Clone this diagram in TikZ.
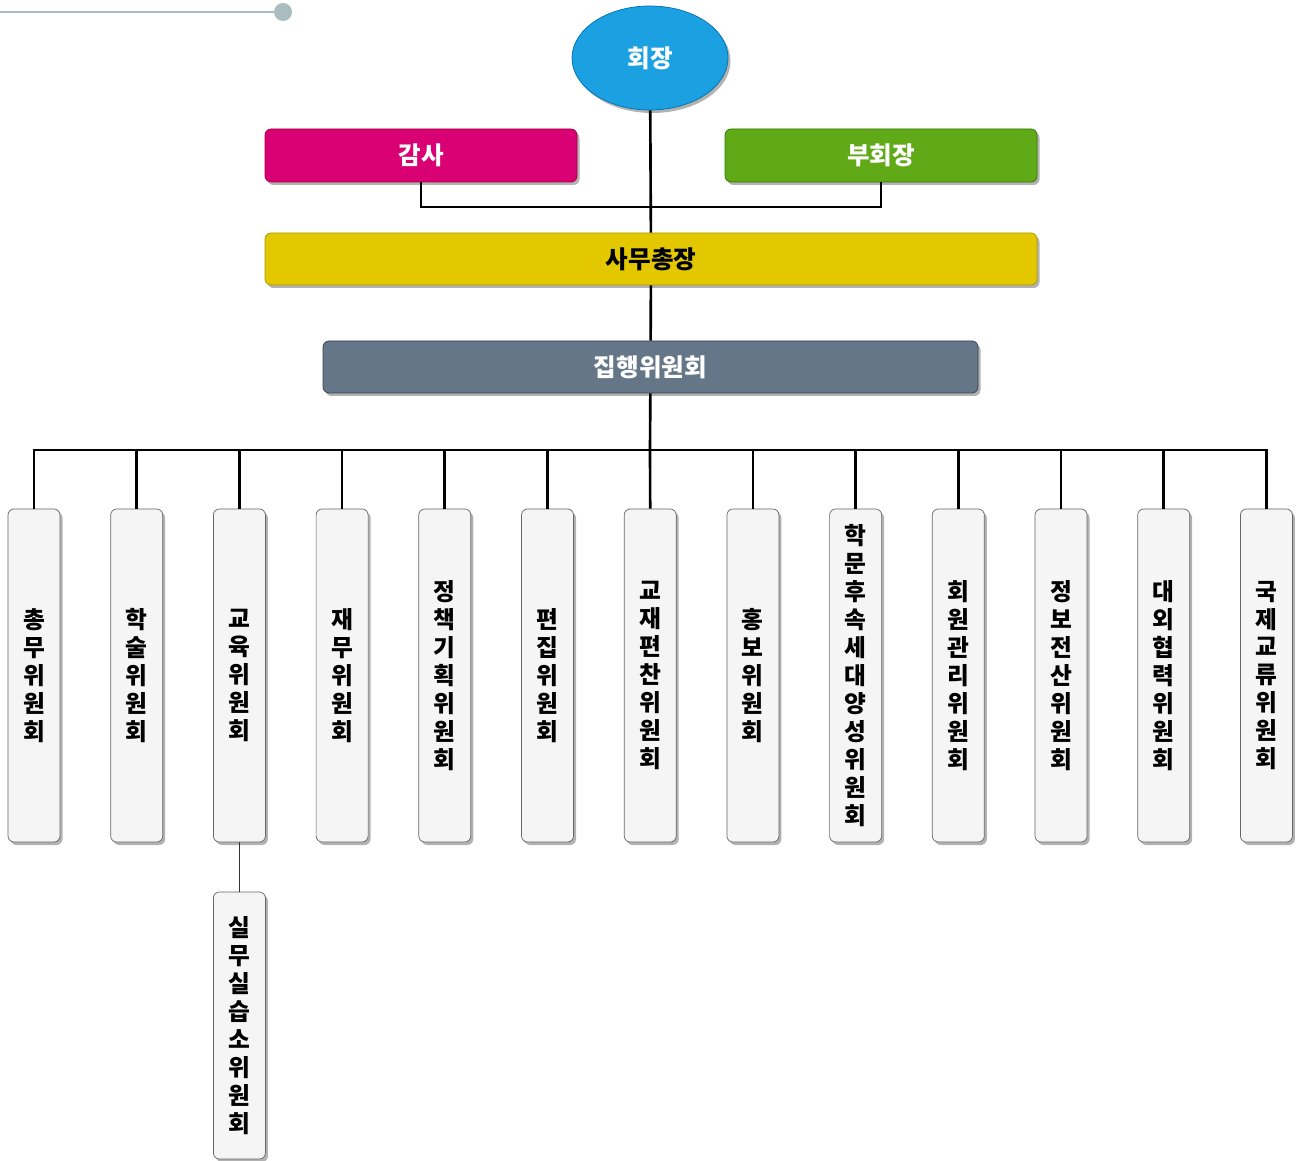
\documentclass[tikz,border=0pt]{standalone}
\usepackage{fontspec}
\newfontfamily\krfont{Noto Sans CJK KR}
\usepackage{tikz}
\usetikzlibrary{shapes.geometric,shadows}

\definecolor{cblue}{HTML}{1BA1E2}
\definecolor{cbluel}{HTML}{006EAF}
\definecolor{cpink}{HTML}{D80073}
\definecolor{cpinkl}{HTML}{A50040}
\definecolor{cgreen}{HTML}{60A917}
\definecolor{cgreenl}{HTML}{2D7600}
\definecolor{cyel}{HTML}{E3C800}
\definecolor{cyell}{HTML}{B09500}
\definecolor{cslate}{HTML}{647687}
\definecolor{cslatel}{HTML}{314354}
\definecolor{cpaper}{HTML}{F5F5F5}
\definecolor{cedge}{HTML}{666666}
\definecolor{cline}{HTML}{A9BDBE}

\begin{document}
\begin{tikzpicture}[
  shade/.style={drop shadow={shadow xshift=0.05cm,shadow yshift=-0.06cm,fill=black,opacity=0.3}},
  head/.style={draw,rounded corners=0.12cm,minimum height=1.06cm,shade,
    font=\krfont\bfseries\fontsize{14}{16}\selectfont,text=white},
  comm/.style={draw=cedge,fill=cpaper,rounded corners=0.12cm,minimum width=1.04cm,
    minimum height=6.66cm,text width=0.6cm,align=center,inner sep=0pt,shade,
    font=\krfont\bfseries\fontsize{13.5}{15.9}\selectfont},
  link/.style={draw=black,line width=1.5pt},
  dot/.style={circle,fill=cline,minimum size=0.36cm,inner sep=0pt}
]
\useasboundingbox (0,0) rectangle (25.92,-23.22);

% top rule
\coordinate (ls) at (0,-0.24);
\node[dot] (ld) at (5.66,-0.24) {};
\draw[cline,line width=1.6pt] (ls) -- (ld);

% heads
\node[ellipse,draw=cbluel,fill=cblue,minimum width=3.12cm,minimum height=2.08cm,shade,
  font=\krfont\bfseries\fontsize{14}{16}\selectfont,text=white] (p) at (13.0,-1.16) {회장};
\node[head,fill=cpink,draw=cpinkl,minimum width=6.24cm] (pa) at (8.42,-3.11) {감사};
\node[head,fill=cgreen,draw=cgreenl,minimum width=6.24cm] (pb) at (17.62,-3.11) {부회장};
\node[head,fill=cyel,draw=cyell,minimum width=15.44cm,minimum height=1.04cm,text=black] (ps) at (13.02,-5.18) {사무총장};
\node[head,fill=cslate,draw=cslatel,minimum width=13.1cm,minimum height=1.04cm] (pe) at (13.01,-7.34) {집행위원회};
\coordinate (pm) at (13.0,-4.14);
\coordinate (bus) at (13.0,-9.0);
\draw[link] (p) -- (ps);
\draw[link] (pa.south) |- (pm) -| (pb.south);
\draw[link] (ps) -- (pe);
\draw[link] (pe) -- (bus);

% committees
\node[comm] (eA) at (0.68,-13.51) {총\\무\\위\\원\\회};
\node[comm] (eB) at (2.734,-13.51) {학\\술\\위\\원\\회};
\node[comm] (eC) at (4.788,-13.51) {교\\육\\위\\원\\회};
\node[comm] (eD) at (6.842,-13.51) {재\\무\\위\\원\\회};
\node[comm] (eE) at (8.896,-13.51) {정\\책\\기\\획\\위\\원\\회};
\node[comm] (eF) at (10.95,-13.51) {편\\집\\위\\원\\회};
\node[comm] (eG) at (13.004,-13.51) {교\\재\\편\\찬\\위\\원\\회};
\node[comm] (eH) at (15.058,-13.51) {홍\\보\\위\\원\\회};
\node[comm] (eI) at (17.112,-13.51) {학\\문\\후\\속\\세\\대\\양\\성\\위\\원\\회};
\node[comm] (eJ) at (19.166,-13.51) {회\\원\\관\\리\\위\\원\\회};
\node[comm] (eK) at (21.22,-13.51) {정\\보\\전\\산\\위\\원\\회};
\node[comm] (eL) at (23.274,-13.51) {대\\외\\협\\력\\위\\원\\회};
\node[comm] (eM) at (25.328,-13.51) {국\\제\\교\\류\\위\\원\\회};
\node[comm,minimum height=5.34cm] (eCa) at (4.788,-20.51) {실\\무\\실\\습\\소\\위\\원\\회};
\draw[link] (eA.north) |- (bus);
\draw[link] (eB.north) |- (bus);
\draw[link] (eC.north) |- (bus);
\draw[link] (eD.north) |- (bus);
\draw[link] (eE.north) |- (bus);
\draw[link] (eF.north) |- (bus);
\draw[link] (eG.north) -- (bus);
\draw[link] (eH.north) |- (bus);
\draw[link] (eI.north) |- (bus);
\draw[link] (eJ.north) |- (bus);
\draw[link] (eK.north) |- (bus);
\draw[link] (eL.north) |- (bus);
\draw[link] (eM.north) |- (bus);
\draw[draw=black!80,line width=0.8pt] (eC) -- (eCa);
\end{tikzpicture}
\end{document}
